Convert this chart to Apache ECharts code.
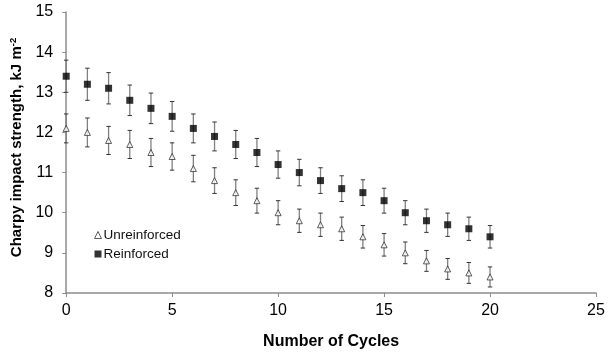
<!DOCTYPE html>
<html>
<head>
<meta charset="utf-8">
<script src="https://cdn.jsdelivr.net/npm/echarts@6/dist/echarts.min.js"></script>
<style>
  html, body { margin: 0; padding: 0; background: #fff; }
  #chart { width: 614px; height: 356px; }
</style>
</head>
<body>
<div id="chart"></div>
<script>
// Impact strength after repeated cycles, mean ± error
const cycles = [0, 1, 2, 3, 4, 5, 6, 7, 8, 9, 10, 11, 12, 13, 14, 15, 16, 17, 18, 19, 20];
const unreinforced = [12.1, 12.0, 11.8, 11.7, 11.5, 11.4, 11.1, 10.8, 10.5, 10.3, 10.0, 9.8, 9.7, 9.6, 9.4, 9.2, 9.0, 8.8, 8.6, 8.5, 8.4];
const unreinforcedErr = [0.36, 0.36, 0.35, 0.35, 0.35, 0.34, 0.33, 0.32, 0.32, 0.31, 0.30, 0.29, 0.29, 0.29, 0.28, 0.28, 0.27, 0.26, 0.26, 0.26, 0.25];
const reinforced = [13.4, 13.2, 13.1, 12.8, 12.6, 12.4, 12.1, 11.9, 11.7, 11.5, 11.2, 11.0, 10.8, 10.6, 10.5, 10.3, 10.0, 9.8, 9.7, 9.6, 9.4];
const reinforcedErr = [0.40, 0.40, 0.39, 0.38, 0.38, 0.37, 0.36, 0.36, 0.35, 0.35, 0.34, 0.33, 0.32, 0.32, 0.32, 0.31, 0.30, 0.29, 0.29, 0.29, 0.28];
const xTicks = [0, 5, 10, 15, 20, 25];
const yTicks = [8, 9, 10, 11, 12, 13, 14, 15];

const FONT = '"Liberation Sans", Arial, sans-serif';

function points(vals) {
  return cycles.map((c, i) => [c, vals[i]]);
}
function errRows(vals, errs) {
  return cycles.map((c, i) => [c, vals[i] - errs[i], vals[i] + errs[i]]);
}

// vertical whisker with short caps at both ends
function renderErr(params, api) {
  const x = api.value(0);
  const lo = api.coord([x, api.value(1)]);
  const hi = api.coord([x, api.value(2)]);
  const half = 2.2;
  return {
    type: 'group',
    children: [
      { type: 'line', shape: { x1: lo[0], y1: lo[1], x2: hi[0], y2: hi[1] },
        style: { stroke: '#808080', lineWidth: 1.3 } },
      { type: 'line', shape: { x1: lo[0] - half, y1: lo[1], x2: lo[0] + half, y2: lo[1] },
        style: { stroke: '#333', lineWidth: 1 } },
      { type: 'line', shape: { x1: hi[0] - half, y1: hi[1], x2: hi[0] + half, y2: hi[1] },
        style: { stroke: '#333', lineWidth: 1 } }
    ]
  };
}

const chart = echarts.init(document.getElementById('chart'), null, { renderer: 'canvas' });

chart.setOption({
  animation: false,
  backgroundColor: '#fff',
  textStyle: { fontFamily: FONT },
  grid: { left: 66, right: 18, top: 12, bottom: 63, containLabel: false },
  legend: {
    orient: 'vertical',
    left: 89,
    top: 223,
    itemGap: 5,
    itemWidth: 7,
    itemHeight: 7,
    textStyle: { fontFamily: FONT, fontSize: 13.5, color: '#111', padding: [0, 0, 0, -3] },
    data: [
      { name: 'Unreinforced', icon: 'triangle',
        itemStyle: { color: '#fff', borderColor: '#333', borderWidth: 1 } },
      { name: 'Reinforced', icon: 'rect',
        itemStyle: { color: '#000', borderColor: '#000' } }
    ]
  },
  xAxis: {
    type: 'value',
    min: 0, max: 25, interval: 5,
    name: 'Number of Cycles',
    nameLocation: 'middle',
    nameGap: 41,
    nameTextStyle: { fontFamily: FONT, fontSize: 16, fontWeight: 'bold', color: '#000' },
    axisLine: { show: true, lineStyle: { color: '#8c8c8c', width: 1.5 } },
    axisTick: { show: true, length: 4, lineStyle: { color: '#8c8c8c' } },
    axisLabel: { fontFamily: FONT, fontSize: 16, color: '#000', margin: 10,
      formatter: v => xTicks.includes(v) ? String(v) : '' },
    splitLine: { show: false }
  },
  yAxis: {
    type: 'value',
    min: 8, max: 15, interval: 1,
    name: '{a|Charpy impact strength, kJ m}{s|-2}',
    nameLocation: 'middle',
    nameGap: 33,
    nameTextStyle: {
      fontFamily: FONT, fontSize: 15, fontWeight: 'bold', color: '#000',
      rich: {
        a: { fontFamily: FONT, fontSize: 15, fontWeight: 'bold', color: '#000', padding: [0, 0, 0, 10] },
        s: { fontFamily: FONT, fontSize: 9.5, fontWeight: 'bold', color: '#000', padding: [0, 0, 8, 0] }
      }
    },
    axisLine: { show: true, lineStyle: { color: '#8c8c8c', width: 1.5 } },
    axisTick: { show: true, length: 4, lineStyle: { color: '#8c8c8c' } },
    axisLabel: { fontFamily: FONT, fontSize: 16, color: '#000', margin: 13,
      formatter: v => yTicks.includes(v) ? String(v) : '' },
    splitLine: { show: false }
  },
  series: [
    {
      name: 'Unreinforced err', type: 'custom', renderItem: renderErr,
      data: errRows(unreinforced, unreinforcedErr), z: 1, silent: true
    },
    {
      name: 'Reinforced err', type: 'custom', renderItem: renderErr,
      data: errRows(reinforced, reinforcedErr), z: 1, silent: true
    },
    {
      name: 'Unreinforced', type: 'scatter', symbol: 'triangle', symbolSize: 6,
      itemStyle: { color: '#fff', borderColor: '#333', borderWidth: 1 },
      data: points(unreinforced), z: 3
    },
    {
      name: 'Reinforced', type: 'scatter', symbol: 'rect', symbolSize: 7,
      itemStyle: { color: '#000' },
      data: points(reinforced), z: 3
    }
  ]
});
</script>
</body>
</html>
